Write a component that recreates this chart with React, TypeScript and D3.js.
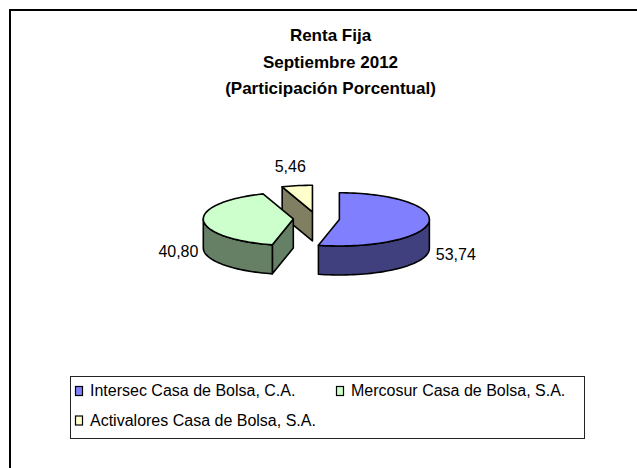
import * as d3 from "d3";

const CATEGORIES = [
  "Intersec Casa de Bolsa, C.A.",
  "Mercosur Casa de Bolsa, S.A.",
  "Activalores Casa de Bolsa, S.A.",
];
const VALUES = [53.74, 40.8, 5.46];
const TOP_COLORS = ["#8080ff", "#ccffcc", "#ffffcc"];
const SIDE_COLORS = ["#40407f", "#668066", "#817f62"];
const TITLE_LINES = ["Renta Fija", "Septiembre 2012", "(Participación Porcentual)"];

const WIDTH = 637;
const HEIGHT = 468;
const CX = 316.4;
const CY = 218.6;
const RX = 90;
const RY = 26.6;
const DEPTH = 29;
const EXPLODE = 0.257;
const FONT = "'Liberation Sans', Arial, sans-serif";

const fmt = d3.formatLocale({
  decimal: ",",
  thousands: ".",
  grouping: [3],
  currency: ["", ""],
}).format(".2f");

type Slice = d3.PieArcDatum<number> & { i: number };

function ellipsePts(ax: number, ay: number, a0: number, a1: number, z: number) {
  const n = Math.max(2, Math.ceil(Math.abs(a1 - a0) / 0.04));
  return d3.range(n + 1).map((k) => {
    const a = a0 + ((a1 - a0) * k) / n;
    return [ax + RX * Math.sin(a), ay - RY * Math.cos(a) + z] as [number, number];
  });
}

const line = d3.line().curve(d3.curveLinear);

export default function App() {
  const slices: Slice[] = d3
    .pie<number>()
    .sort(null)
    .value((d) => d)(VALUES)
    .map((s, i) => ({ ...s, i }));

  // back slices first
  const order = [...slices].sort(
    (a, b) =>
      Math.cos((b.startAngle + b.endAngle) / 2) -
      Math.cos((a.startAngle + a.endAngle) / 2),
  );

  const pieShapes = order.map((s) => {
    const mid = (s.startAngle + s.endAngle) / 2;
    const ax = CX + EXPLODE * RX * Math.sin(mid);
    const ay = CY - EXPLODE * RY * Math.cos(mid);
    const a0 = s.startAngle;
    const a1 = s.endAngle;
    const faces: string[] = [];

    // radial faces
    const radial = (a: number) => {
      const rx = ax + RX * Math.sin(a);
      const ry = ay - RY * Math.cos(a);
      return line([
        [ax, ay],
        [rx, ry],
        [rx, ry + DEPTH],
        [ax, ay + DEPTH],
      ])! + "Z";
    };
    if (Math.sin(a0) < -1e-6) faces.push(radial(a0));
    if (Math.sin(a1) > 1e-6) faces.push(radial(a1));

    // outer wall, front half only
    const w0 = Math.max(a0, Math.PI / 2);
    const w1 = Math.min(a1, (3 * Math.PI) / 2);
    if (w1 > w0) {
      const top = ellipsePts(ax, ay, w0, w1, 0);
      const bottom = ellipsePts(ax, ay, w0, w1, DEPTH).reverse();
      faces.push(line([...top, ...bottom])! + "Z");
    }

    const topFace = line([[ax, ay], ...ellipsePts(ax, ay, a0, a1, 0)])! + "Z";
    return { s, faces, topFace };
  });

  const labels = slices.map((s) => {
    const mid = (s.startAngle + s.endAngle) / 2;
    const ax = CX + EXPLODE * RX * Math.sin(mid);
    const ay = CY - EXPLODE * RY * Math.cos(mid);
    const rx = ax + RX * Math.sin(mid);
    const ry = ay - RY * Math.cos(mid);
    const sn = Math.sin(mid);
    const cs = Math.cos(mid);
    if (cs > 0.5) {
      return { i: s.i, x: rx + 40 * sn, y: ry - 14, anchor: "middle" };
    }
    return {
      i: s.i,
      x: sn > 0 ? rx + 7 : rx - 5,
      y: ry + DEPTH + 8,
      anchor: sn > 0 ? "start" : "end",
    };
  });

  const legendCols = [75, 336];
  const legendRows = [396, 425.5];

  return (
    <svg
      width={WIDTH}
      height={HEIGHT}
      style={{ position: "absolute", left: 0, top: 0, background: "#fff" }}
      fontFamily={FONT}
    >
      <rect x={0} y={0} width={WIDTH} height={HEIGHT} fill="#fff" />
      <rect
        x={10}
        y={10}
        width={WIDTH + 20}
        height={HEIGHT + 20}
        fill="none"
        stroke="#000"
        strokeWidth={2}
      />

      {TITLE_LINES.map((t, k) => (
        <text
          key={t}
          x={330.5}
          y={41 + k * 26.5}
          textAnchor="middle"
          fontWeight="bold"
          fontSize={17}
          fill="#000"
        >
          {t}
        </text>
      ))}

      <g stroke="#000" strokeWidth={1.6} strokeLinejoin="round">
        {pieShapes.map(({ s, faces, topFace }) => (
          <g key={s.i}>
            {faces.map((d, k) => (
              <path key={k} d={d} fill={SIDE_COLORS[s.i]} />
            ))}
            <path d={topFace} fill={TOP_COLORS[s.i]} />
          </g>
        ))}
      </g>

      {labels.map((l) => (
        <text
          key={l.i}
          x={l.x}
          y={l.y}
          textAnchor={l.anchor}
          fontSize={16}
          fill="#000"
        >
          {fmt(VALUES[l.i])}
        </text>
      ))}

      <rect
        x={70.5}
        y={376.5}
        width={514}
        height={62}
        fill="#fff"
        stroke="#222"
        strokeWidth={1}
      />
      {CATEGORIES.map((c, i) => {
        const x = legendCols[i % 2];
        const y = legendRows[Math.floor(i / 2)];
        return (
          <g key={c}>
            <rect
              x={x + 0.5}
              y={y - 9.5}
              width={7}
              height={9}
              fill={TOP_COLORS[i]}
              stroke="#000"
              strokeWidth={1.2}
            />
            <text x={x + 15} y={y} fontSize={16} fill="#000">
              {c}
            </text>
          </g>
        );
      })}
    </svg>
  );
}
